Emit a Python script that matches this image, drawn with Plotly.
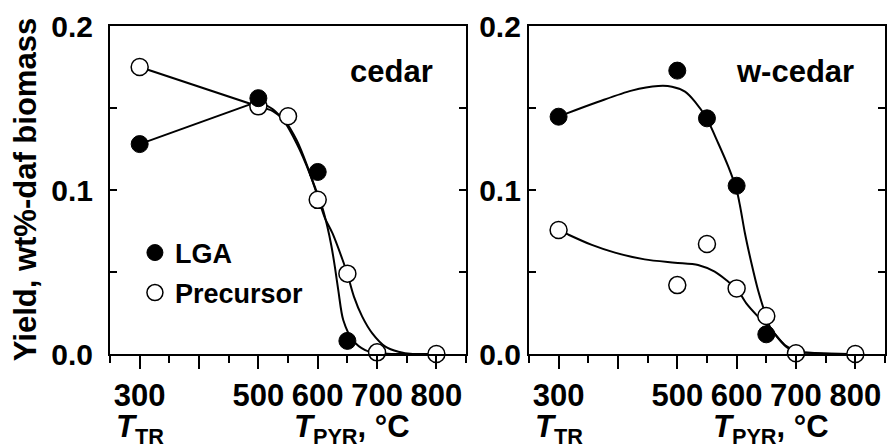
import plotly.graph_objects as go

# ---- measured yields (wt%-daf biomass) ----
cedar_lga_T = [300, 500, 600, 650]
cedar_lga_y = [0.128, 0.156, 0.111, 0.008]
cedar_pre_T = [300, 500, 550, 600, 650, 700, 800]
cedar_pre_y = [0.175, 0.151, 0.145, 0.094, 0.049, 0.001, 0.0]

wcedar_lga_T = [300, 500, 550, 600, 650]
wcedar_lga_y = [0.1447, 0.1728, 0.1437, 0.1026, 0.012]
wcedar_pre_T = [300, 500, 550, 600, 650, 700, 800]
wcedar_pre_y = [0.0756, 0.042, 0.0671, 0.040, 0.0232, 0.0005, 0.0]

# ---- guide curves drawn through the data ----
cedar_lga_fit_T = [500, 525, 545, 565, 580, 595, 608, 616, 623, 629, 635, 643, 659, 680, 703, 730, 800]
cedar_lga_fit_y = [0.154, 0.149, 0.141, 0.128, 0.116, 0.102, 0.089, 0.078, 0.066, 0.053, 0.038, 0.0207, 0.0085, 0.0024, 0.0004, 0.0, 0.0]
cedar_pre_fit_T = [500, 525, 545, 565, 582, 600, 612, 625, 642, 650, 661, 675, 692, 714, 736, 760, 800]
cedar_pre_fit_y = [0.151, 0.148, 0.142, 0.130, 0.115, 0.096, 0.083, 0.0735, 0.0573, 0.0488, 0.035, 0.0228, 0.0126, 0.0045, 0.0014, 0.0, 0.0]

wcedar_lga_fit_T = [300, 314, 367, 423, 468, 491, 513, 530, 549, 569, 586, 600, 606, 614, 625, 636, 648, 656, 670, 687, 704, 737, 800]
wcedar_lga_fit_y = [0.1447, 0.1467, 0.1538, 0.1606, 0.1634, 0.163, 0.160, 0.1538, 0.144, 0.1285, 0.1142, 0.1000, 0.0898, 0.0736, 0.0553, 0.039, 0.0248, 0.0166, 0.0096, 0.0035, 0.0014, 0.0005, 0.0]
wcedar_pre_fit_T = [300, 314, 356, 395, 445, 496, 535, 563, 586, 600, 616, 636, 659, 681, 704, 737, 800]
wcedar_pre_fit_y = [0.0756, 0.0732, 0.0665, 0.0618, 0.0577, 0.0557, 0.0543, 0.0502, 0.0441, 0.040, 0.031, 0.0228, 0.0146, 0.0055, 0.0014, 0.0005, 0.0]

x_tickvals = [300, 400, 500, 600, 700, 800]
x_ticktext = ["300", "", "500", "600", "700", "800"]
y_tickvals = [0.0, 0.05, 0.1, 0.15, 0.2]
y_ticktext = ["0.0", "", "0.1", "", "0.2"]

FONT = "Liberation Sans, Arial, sans-serif"
W, H = 891, 444
ML, MR, MT, MB = 110, 4, 26, 90
PW = W - ML - MR
PH = H - MT - MB


def px_x(p):
    return (p - ML) / PW


def px_y(p):
    return (H - MB - p) / PH


fig = go.Figure()

line_style = dict(color="black", width=2)
filled = dict(symbol="circle", size=17, color="black", line=dict(color="black", width=1))
hollow = dict(symbol="circle", size=17, color="white", line=dict(color="black", width=1.5))

# cedar: straight segment from the torrefaction point, then the decay curve
fig.add_trace(go.Scatter(x=[cedar_lga_T[0], cedar_lga_fit_T[0]], y=[cedar_lga_y[0], cedar_lga_fit_y[0]],
                         mode="lines", line=line_style, showlegend=False, xaxis="x", yaxis="y"))
fig.add_trace(go.Scatter(x=[cedar_pre_T[0], cedar_pre_fit_T[0]], y=[cedar_pre_y[0], cedar_pre_fit_y[0]],
                         mode="lines", line=line_style, showlegend=False, xaxis="x", yaxis="y"))
fig.add_trace(go.Scatter(x=cedar_lga_fit_T, y=cedar_lga_fit_y, mode="lines",
                         line=dict(line_style, shape="spline", smoothing=0.8), showlegend=False, xaxis="x", yaxis="y"))
fig.add_trace(go.Scatter(x=cedar_pre_fit_T, y=cedar_pre_fit_y, mode="lines",
                         line=dict(line_style, shape="spline", smoothing=0.8), showlegend=False, xaxis="x", yaxis="y"))
fig.add_trace(go.Scatter(x=cedar_pre_T, y=cedar_pre_y, mode="markers", marker=hollow, name="Precursor",
                         legend="legend2", xaxis="x", yaxis="y", cliponaxis=False))
fig.add_trace(go.Scatter(x=cedar_lga_T, y=cedar_lga_y, mode="markers", marker=filled, name="LGA",
                         legend="legend", xaxis="x", yaxis="y", cliponaxis=False))

# w-cedar
fig.add_trace(go.Scatter(x=wcedar_lga_fit_T, y=wcedar_lga_fit_y, mode="lines",
                         line=dict(line_style, shape="spline", smoothing=0.8), showlegend=False, xaxis="x2", yaxis="y2"))
fig.add_trace(go.Scatter(x=wcedar_pre_fit_T, y=wcedar_pre_fit_y, mode="lines",
                         line=dict(line_style, shape="spline", smoothing=0.8), showlegend=False, xaxis="x2", yaxis="y2"))
fig.add_trace(go.Scatter(x=wcedar_pre_T, y=wcedar_pre_y, mode="markers", marker=hollow,
                         showlegend=False, xaxis="x2", yaxis="y2", cliponaxis=False))
fig.add_trace(go.Scatter(x=wcedar_lga_T, y=wcedar_lga_y, mode="markers", marker=filled,
                         showlegend=False, xaxis="x2", yaxis="y2", cliponaxis=False))

xtick_font = dict(family=FONT, size=31, color="black", weight="bold")
ytick_font = dict(family=FONT, size=30, color="black", weight="bold")

xaxis_common = dict(
    range=[250, 850], tickmode="array", tickvals=x_tickvals, ticktext=x_ticktext,
    ticks="outside", ticklen=13, tickwidth=2, tickcolor="black",
    minor=dict(dtick=50, tick0=250, ticks="outside", ticklen=7, tickwidth=2, tickcolor="black"),
    showline=True, linewidth=2, linecolor="black", mirror=True,
    showgrid=False, zeroline=False, tickfont=xtick_font, ticklabelstandoff=0,
)
yaxis_common = dict(
    range=[0, 0.2], tickmode="array", tickvals=y_tickvals, ticktext=y_ticktext,
    ticks="inside", ticklen=7, tickwidth=2, tickcolor="black",
    showline=True, linewidth=2, linecolor="black", mirror="ticks",
    showgrid=False, zeroline=False, tickfont=ytick_font,
)

left_dom = [0, px_x(467)]
right_dom = [px_x(530), 1]

fig.update_layout(
    width=W, height=H,
    margin=dict(l=ML, r=MR, t=MT, b=MB),
    paper_bgcolor="white", plot_bgcolor="white",
    font=dict(family=FONT, color="black"),
    xaxis=dict(xaxis_common, domain=left_dom, anchor="y"),
    yaxis=dict(yaxis_common, domain=[0, 1], anchor="x", ticklabelstandoff=9),
    xaxis2=dict(xaxis_common, domain=right_dom, anchor="y2"),
    yaxis2=dict(yaxis_common, domain=[0, 1], anchor="x2", ticklabelstandoff=0),
    legend=dict(x=px_x(135), y=px_y(253), xanchor="left", yanchor="middle",
                font=dict(family=FONT, size=27, color="black", weight="bold"),
                bgcolor="rgba(0,0,0,0)", borderwidth=0),
    legend2=dict(x=px_x(135), y=px_y(293), xanchor="left", yanchor="middle",
                 font=dict(family=FONT, size=27, color="black", weight="bold"),
                 bgcolor="rgba(0,0,0,0)", borderwidth=0),
    showlegend=True,
)

ann_font = dict(family=FONT, size=31, color="black")
annotations = [
    dict(text="<b>Yield, wt%-daf biomass</b>", textangle=-90, xref="paper", yref="paper",
         x=px_x(25), y=0.5, xanchor="center", yanchor="middle", showarrow=False, font=ann_font),
    dict(text="<b>cedar</b>", xref="paper", yref="paper", x=px_x(436), y=px_y(71),
         xanchor="right", yanchor="middle", showarrow=False, font=ann_font),
    dict(text="<b>w-cedar</b>", xref="paper", yref="paper", x=px_x(858), y=px_y(71),
         xanchor="right", yanchor="middle", showarrow=False, font=ann_font),
]
for xr in ["x", "x2"]:
    annotations.append(dict(text="<b><i>T</i><sub>TR</sub></b>", xref=xr, yref="paper", x=258, y=px_y(408),
                            xanchor="left", yanchor="top", showarrow=False, font=ann_font, borderpad=0))
    annotations.append(dict(text="<b><i>T</i><sub>PYR</sub>, °C</b>", xref=xr, yref="paper", x=558, y=px_y(408),
                            xanchor="left", yanchor="top", showarrow=False, font=ann_font, borderpad=0))
fig.update_layout(annotations=annotations)

fig.write_html("out.html")
